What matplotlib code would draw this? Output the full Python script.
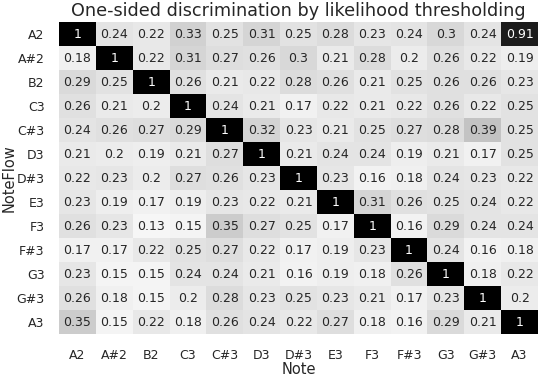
import numpy as np
import matplotlib
matplotlib.use("Agg")
import matplotlib.pyplot as plt

# %%
## Data ##

notes = ["A2", "A#2", "B2", "C3", "C#3", "D3", "D#3", "E3", "F3", "F#3", "G3", "G#3", "A3"]

row_A2 = [1, 0.24, 0.22, 0.33, 0.25, 0.31, 0.25, 0.28, 0.23, 0.24, 0.3, 0.24, 0.91]
row_As2 = [0.18, 1, 0.22, 0.31, 0.27, 0.26, 0.3, 0.21, 0.28, 0.2, 0.26, 0.22, 0.19]
row_B2 = [0.29, 0.25, 1, 0.26, 0.21, 0.22, 0.28, 0.26, 0.21, 0.25, 0.26, 0.26, 0.23]
row_C3 = [0.26, 0.21, 0.2, 1, 0.24, 0.21, 0.17, 0.22, 0.21, 0.22, 0.26, 0.22, 0.25]
row_Cs3 = [0.24, 0.26, 0.27, 0.29, 1, 0.32, 0.23, 0.21, 0.25, 0.27, 0.28, 0.39, 0.25]
row_D3 = [0.21, 0.2, 0.19, 0.21, 0.27, 1, 0.21, 0.24, 0.24, 0.19, 0.21, 0.17, 0.25]
row_Ds3 = [0.22, 0.23, 0.2, 0.27, 0.26, 0.23, 1, 0.23, 0.16, 0.18, 0.24, 0.23, 0.22]
row_E3 = [0.23, 0.19, 0.17, 0.19, 0.23, 0.22, 0.21, 1, 0.31, 0.26, 0.25, 0.24, 0.22]
row_F3 = [0.26, 0.23, 0.13, 0.15, 0.35, 0.27, 0.25, 0.17, 1, 0.16, 0.29, 0.24, 0.24]
row_Fs3 = [0.17, 0.17, 0.22, 0.25, 0.27, 0.22, 0.17, 0.19, 0.23, 1, 0.24, 0.16, 0.18]
row_G3 = [0.23, 0.15, 0.15, 0.24, 0.24, 0.21, 0.16, 0.19, 0.18, 0.26, 1, 0.18, 0.22]
row_Gs3 = [0.26, 0.18, 0.15, 0.2, 0.28, 0.23, 0.25, 0.23, 0.21, 0.17, 0.23, 1, 0.2]
row_A3 = [0.35, 0.15, 0.22, 0.18, 0.26, 0.24, 0.22, 0.27, 0.18, 0.16, 0.29, 0.21, 1]

matrix = np.array([
    row_A2, row_As2, row_B2, row_C3, row_Cs3, row_D3, row_Ds3,
    row_E3, row_F3, row_Fs3, row_G3, row_Gs3, row_A3,
])

# %%
## Plot ##

text_color = "#262626"
fig = plt.figure(figsize=(5.38, 3.76), dpi=100)
ax = fig.add_axes([59 / 538, 1 - 334 / 376, 479 / 538, 312 / 376])

cmap = plt.get_cmap("Greys")
vmin, vmax = 0.06, 1.0
ax.pcolormesh(matrix, cmap=cmap, vmin=vmin, vmax=vmax)
ax.set_xlim(0, len(notes))
ax.set_ylim(len(notes), 0)

for i in range(len(notes)):
    for j in range(len(notes)):
        val = matrix[i, j]
        frac = (val - vmin) / (vmax - vmin)
        color = "white" if frac > 0.6 else text_color
        ax.text(j + 0.5, i + 0.5, f"{val:.2g}", ha="center", va="center",
                fontsize=9, color=color)

ax.set_xticks(np.arange(len(notes)) + 0.5)
ax.set_yticks(np.arange(len(notes)) + 0.5)
ax.set_xticklabels(notes)
ax.set_yticklabels(notes)
ax.tick_params(length=0, labelsize=9, pad=10.5, colors=text_color)
for s in ax.spines.values():
    s.set_visible(False)

ax.set_xlabel("Note", fontsize=10.5, color=text_color, labelpad=0)
ax.set_ylabel("NoteFlow", fontsize=10.5, color=text_color, labelpad=0)
ax.set_title("One-sided discrimination by likelihood thresholding",
             fontsize=12.7, color=text_color, pad=4)

fig.savefig("out.png", dpi=100)
